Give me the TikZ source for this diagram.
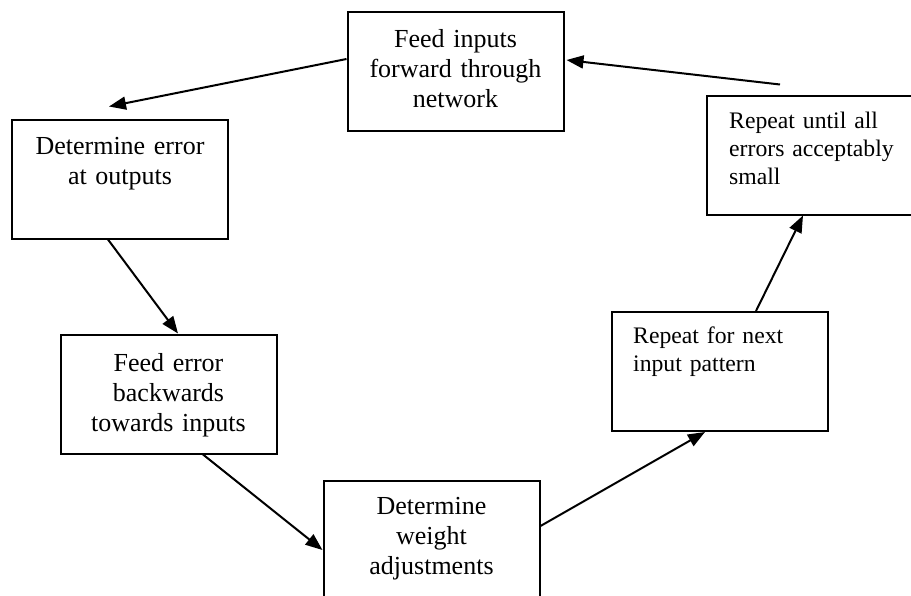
\documentclass[tikz,border=0pt]{standalone}
\usepackage{fontspec}
\setmainfont{Liberation Serif}
\usetikzlibrary{arrows.meta}
\begin{document}
\begin{tikzpicture}[x=1pt,y=-1pt,
  box/.style={draw=black,line width=2pt,fill=none,inner sep=0pt,minimum width=216pt,minimum height=119pt},
  bigtxt/.style={inner sep=0pt,anchor=base,text width=216pt,align=center,font=\fontsize{26}{30}\selectfont},
  smalltxt/.style={inner sep=0pt,anchor=base west,text width=190pt,align=left,font=\fontsize{23.7}{28}\selectfont},
  arr/.style={line width=2pt,-{Triangle[length=17pt,width=13pt]}}]
\clip (0,0) rectangle (911,595);
% boxes
\node[box] (b1) at (455.5,71) {};
\node[box] (b2) at (120,179) {};
\node[box] (b3) at (168.5,394) {};
\node[box] (b4) at (431.5,540) {};
\node[box] (b5) at (720,371.5) {};
\node[box] (b6) at (815,155) {};
% texts
\node[bigtxt] (t1) at (455.5,47) {Feed inputs\\forward through\\network};
\node[bigtxt] (t2) at (120,154) {Determine error\\at outputs};
\node[bigtxt] (t3) at (168.5,371) {Feed error\\backwards\\towards inputs};
\node[bigtxt] (t4) at (431.5,514) {Determine\\weight\\adjustments};
\node[smalltxt] (t5) at (633,343) {Repeat for next\\input pattern};
\node[smalltxt] (t6) at (729,128) {Repeat until all\\errors acceptably\\small};
% connectors
\draw[arr] ([yshift=12pt]b1.west) -- ([xshift=-11pt,yshift=12pt]b2.north);
\draw[arr] ([xshift=-12pt]b2.south) -- ([xshift=9.5pt]b3.north);
\draw[arr] ([xshift=34.5pt]b3.south) -- ([yshift=-10pt]b4.west);
\draw[arr] ([yshift=14pt]b4.east) -- ([xshift=-15pt]b5.south);
\draw[arr] ([xshift=36pt]b5.north) -- ([xshift=-12pt]b6.south);
\draw[arr] ([xshift=-35pt,yshift=10pt]b6.north) -- ([xshift=2pt,yshift=11pt]b1.east);
\end{tikzpicture}
\end{document}
